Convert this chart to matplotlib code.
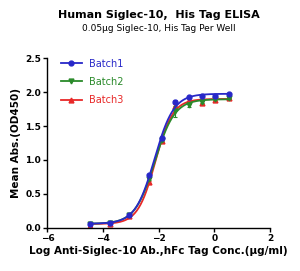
import matplotlib
matplotlib.use('Agg')
import matplotlib.pyplot as plt
import numpy as np

log_conc = np.array([-4.47, -3.75, -3.05, -2.35, -1.87, -1.40, -0.91, -0.44, 0.03, 0.52])

batch1 = np.array([0.06, 0.07, 0.19, 0.77, 1.32, 1.86, 1.93, 1.95, 1.95, 1.97])
batch2 = np.array([0.06, 0.07, 0.19, 0.72, 1.30, 1.72, 1.81, 1.86, 1.90, 1.91])
batch3 = np.array([0.03, 0.06, 0.17, 0.67, 1.28, 1.80, 1.88, 1.84, 1.88, 1.91])

batch1_err = np.array([0.00, 0.00, 0.01, 0.01, 0.02, 0.02, 0.01, 0.01, 0.01, 0.01])
batch2_err = np.array([0.00, 0.00, 0.01, 0.02, 0.02, 0.08, 0.03, 0.02, 0.02, 0.01])
batch3_err = np.array([0.00, 0.00, 0.01, 0.02, 0.02, 0.02, 0.02, 0.03, 0.03, 0.01])

labels = ['Batch1', 'Batch2', 'Batch3']
colors = ['#2828c8', '#2a8a2a', '#e82828']
markers = ['o', 'v', '^']


def fit_4pl(x, y):
  # grid over ec50/hill, bottom & top solved by least squares
  best = None
  for c in np.arange(-3.0, -1.0, 0.01):
    for h in np.arange(0.5, 3.0, 0.02):
      f = 1.0 / (1.0 + 10 ** ((c - x) * h))
      A = np.column_stack([np.ones_like(f), f])
      coef, *_ = np.linalg.lstsq(A, y, rcond=None)
      err = np.sum((A @ coef - y) ** 2)
      if best is None or err < best[0]:
        best = (err, c, h, coef)
  _, c, h, coef = best
  return lambda xx: coef[0] + coef[1] / (1.0 + 10 ** ((c - xx) * h))


fig = plt.figure(figsize=(3.0, 2.71), dpi=100)
ax = fig.add_axes([0.158, 0.16, 0.742, 0.625])

xs = np.linspace(log_conc.min(), log_conc.max(), 300)
series = list(zip([batch1, batch2, batch3],
                  [batch1_err, batch2_err, batch3_err],
                  labels, colors, markers))
# red first so green sits over it, like the original
for i, (y, e, lab, col, mk) in reversed(list(enumerate(series))):
  model = fit_4pl(log_conc, y)
  ax.plot(xs, model(xs), color=col, lw=1.3, zorder=2 + (2 - i))
  ax.errorbar(log_conc, y, e, fmt=mk, color=col, ms=3.5, elinewidth=0.8,
              capsize=1.5, capthick=0.8, zorder=2 + (2 - i))
for y, e, lab, col, mk in series:
  ax.plot([], [], color=col, marker=mk, ms=3.5, lw=1.3, label=lab)

ax.set_xlim(-6, 2)
ax.set_ylim(0, 2.5)
ax.set_xticks([-6, -4, -2, 0, 2])
ax.set_yticks([0, 0.5, 1.0, 1.5, 2.0, 2.5])
ax.set_yticklabels(['0.0', '0.5', '1.0', '1.5', '2.0', '2.5'])
ax.spines['top'].set_visible(False)
ax.spines['right'].set_visible(False)
for s in ['left', 'bottom']:
  ax.spines[s].set_linewidth(1.0)
ax.tick_params(direction='out', length=3, width=1.0, labelsize=6.5, pad=1.5)
for t in ax.get_xticklabels() + ax.get_yticklabels():
  t.set_fontweight('bold')

ax.set_xlabel('Log Anti-Siglec-10 Ab.,hFc Tag Conc.(\u03bcg/ml)',
              fontsize=7.5, fontweight='bold', labelpad=2)
ax.set_ylabel('Mean Abs.(OD450)', fontsize=7.5, fontweight='bold', labelpad=3)

leg = ax.legend(loc='upper left', bbox_to_anchor=(0.02, 1.05), frameon=False,
                fontsize=7, handlelength=2.2, labelspacing=0.85,
                handletextpad=0.7)
for txt, col in zip(leg.get_texts(), colors):
  txt.set_color(col)

fig.text(0.53, 0.945, 'Human Siglec-10,  His Tag ELISA', ha='center',
         va='center', fontsize=8, fontweight='bold')
fig.text(0.53, 0.893, '0.05\u03bcg Siglec-10, His Tag Per Well', ha='center',
         va='center', fontsize=6.5)

fig.savefig('out.png', dpi=100)
